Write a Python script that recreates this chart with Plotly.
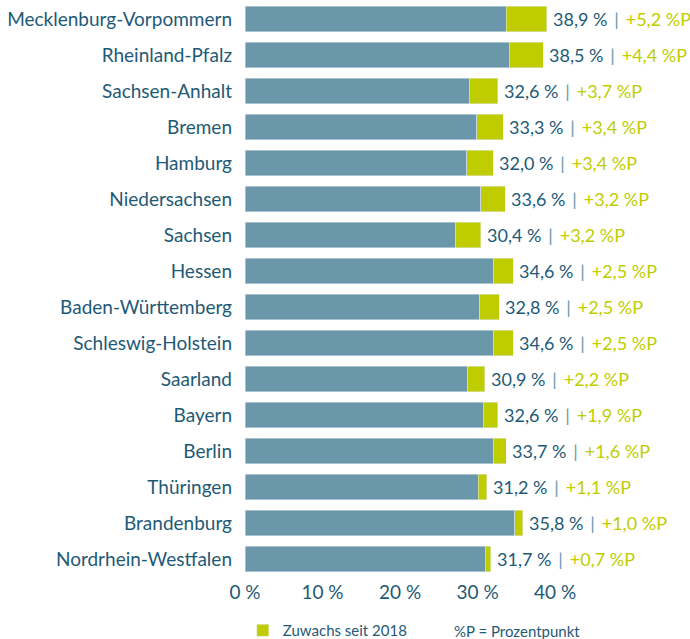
import plotly.graph_objects as go

states = ["Mecklenburg-Vorpommern", "Rheinland-Pfalz", "Sachsen-Anhalt", "Bremen", "Hamburg",
          "Niedersachsen", "Sachsen", "Hessen", "Baden-Württemberg", "Schleswig-Holstein",
          "Saarland", "Bayern", "Berlin", "Thüringen", "Brandenburg", "Nordrhein-Westfalen"]
total_2022 = [38.9, 38.5, 32.6, 33.3, 32.0, 33.6, 30.4, 34.6, 32.8, 34.6, 30.9, 32.6, 33.7, 31.2, 35.8, 31.7]
increase = [5.2, 4.4, 3.7, 3.4, 3.4, 3.2, 3.2, 2.5, 2.5, 2.5, 2.2, 1.9, 1.6, 1.1, 1.0, 0.7]
x_ticks = [0, 10, 20, 30, 40]
x_tick_labels = ["0 %", "10 %", "20 %", "30 %", "40 %"]

BASE = "#6a97aa"
INC = "#bfcd00"
DARK = "#1e5a76"
FONT = "Lato"

base = [round(t - i, 1) for t, i in zip(total_2022, increase)]

def de(v):
    return f"{v:.1f}".replace(".", ",")

fig = go.Figure()
fig.add_trace(go.Bar(y=states, x=base, orientation="h", marker_color=BASE,
                     showlegend=False, name="2018", hoverinfo="skip"))
fig.add_trace(go.Bar(y=states, x=increase, orientation="h", marker_color=INC,
                     name="Zuwachs seit 2018", hoverinfo="skip"))

for s, t, i in zip(states, total_2022, increase):
    fig.add_annotation(
        x=t, y=s, xref="x", yref="y", xanchor="left", yanchor="middle",
        xshift=5, showarrow=False, borderpad=0,
        text=(f"<span style='color:{DARK}'>{de(t)} %</span>&#8201; "
              f"<span style='color:{BASE}'>|</span>&#8201; "
              f"<span style='color:{INC}'>+{de(i)} %P</span>"),
        font=dict(family=FONT, size=18),
    )

fig.add_annotation(x=0.465, y=-0.093, xref="paper", yref="paper", showarrow=False,
                   text="%P = Prozentpunkt", xanchor="left", yanchor="middle",
                   font=dict(family=FONT, size=15, color=DARK))

fig.update_layout(
    barmode="stack",
    bargap=0.28,
    width=690, height=639,
    margin=dict(l=245, r=0, t=1, b=62, autoexpand=False),
    paper_bgcolor="white", plot_bgcolor="white",
    font=dict(family=FONT, color=DARK),
    xaxis=dict(range=[0, 57.4], tickvals=x_ticks, ticktext=x_tick_labels,
               showgrid=False, zeroline=False, showline=False, automargin=False,
               tickfont=dict(size=19, color=DARK), ticks="", ticklabelstandoff=2),
    yaxis=dict(autorange="reversed", showgrid=False, zeroline=False, automargin=False,
               tickfont=dict(size=19, color=DARK), ticks="", ticklabelstandoff=12),
    legend=dict(orientation="h", x=-0.005, y=-0.093, xanchor="left", yanchor="middle",
                font=dict(family=FONT, size=15, color=DARK), itemwidth=30),
)

fig.write_html("out.html", config={"displayModeBar": False},
               post_script="document.body.style.margin='0';")
